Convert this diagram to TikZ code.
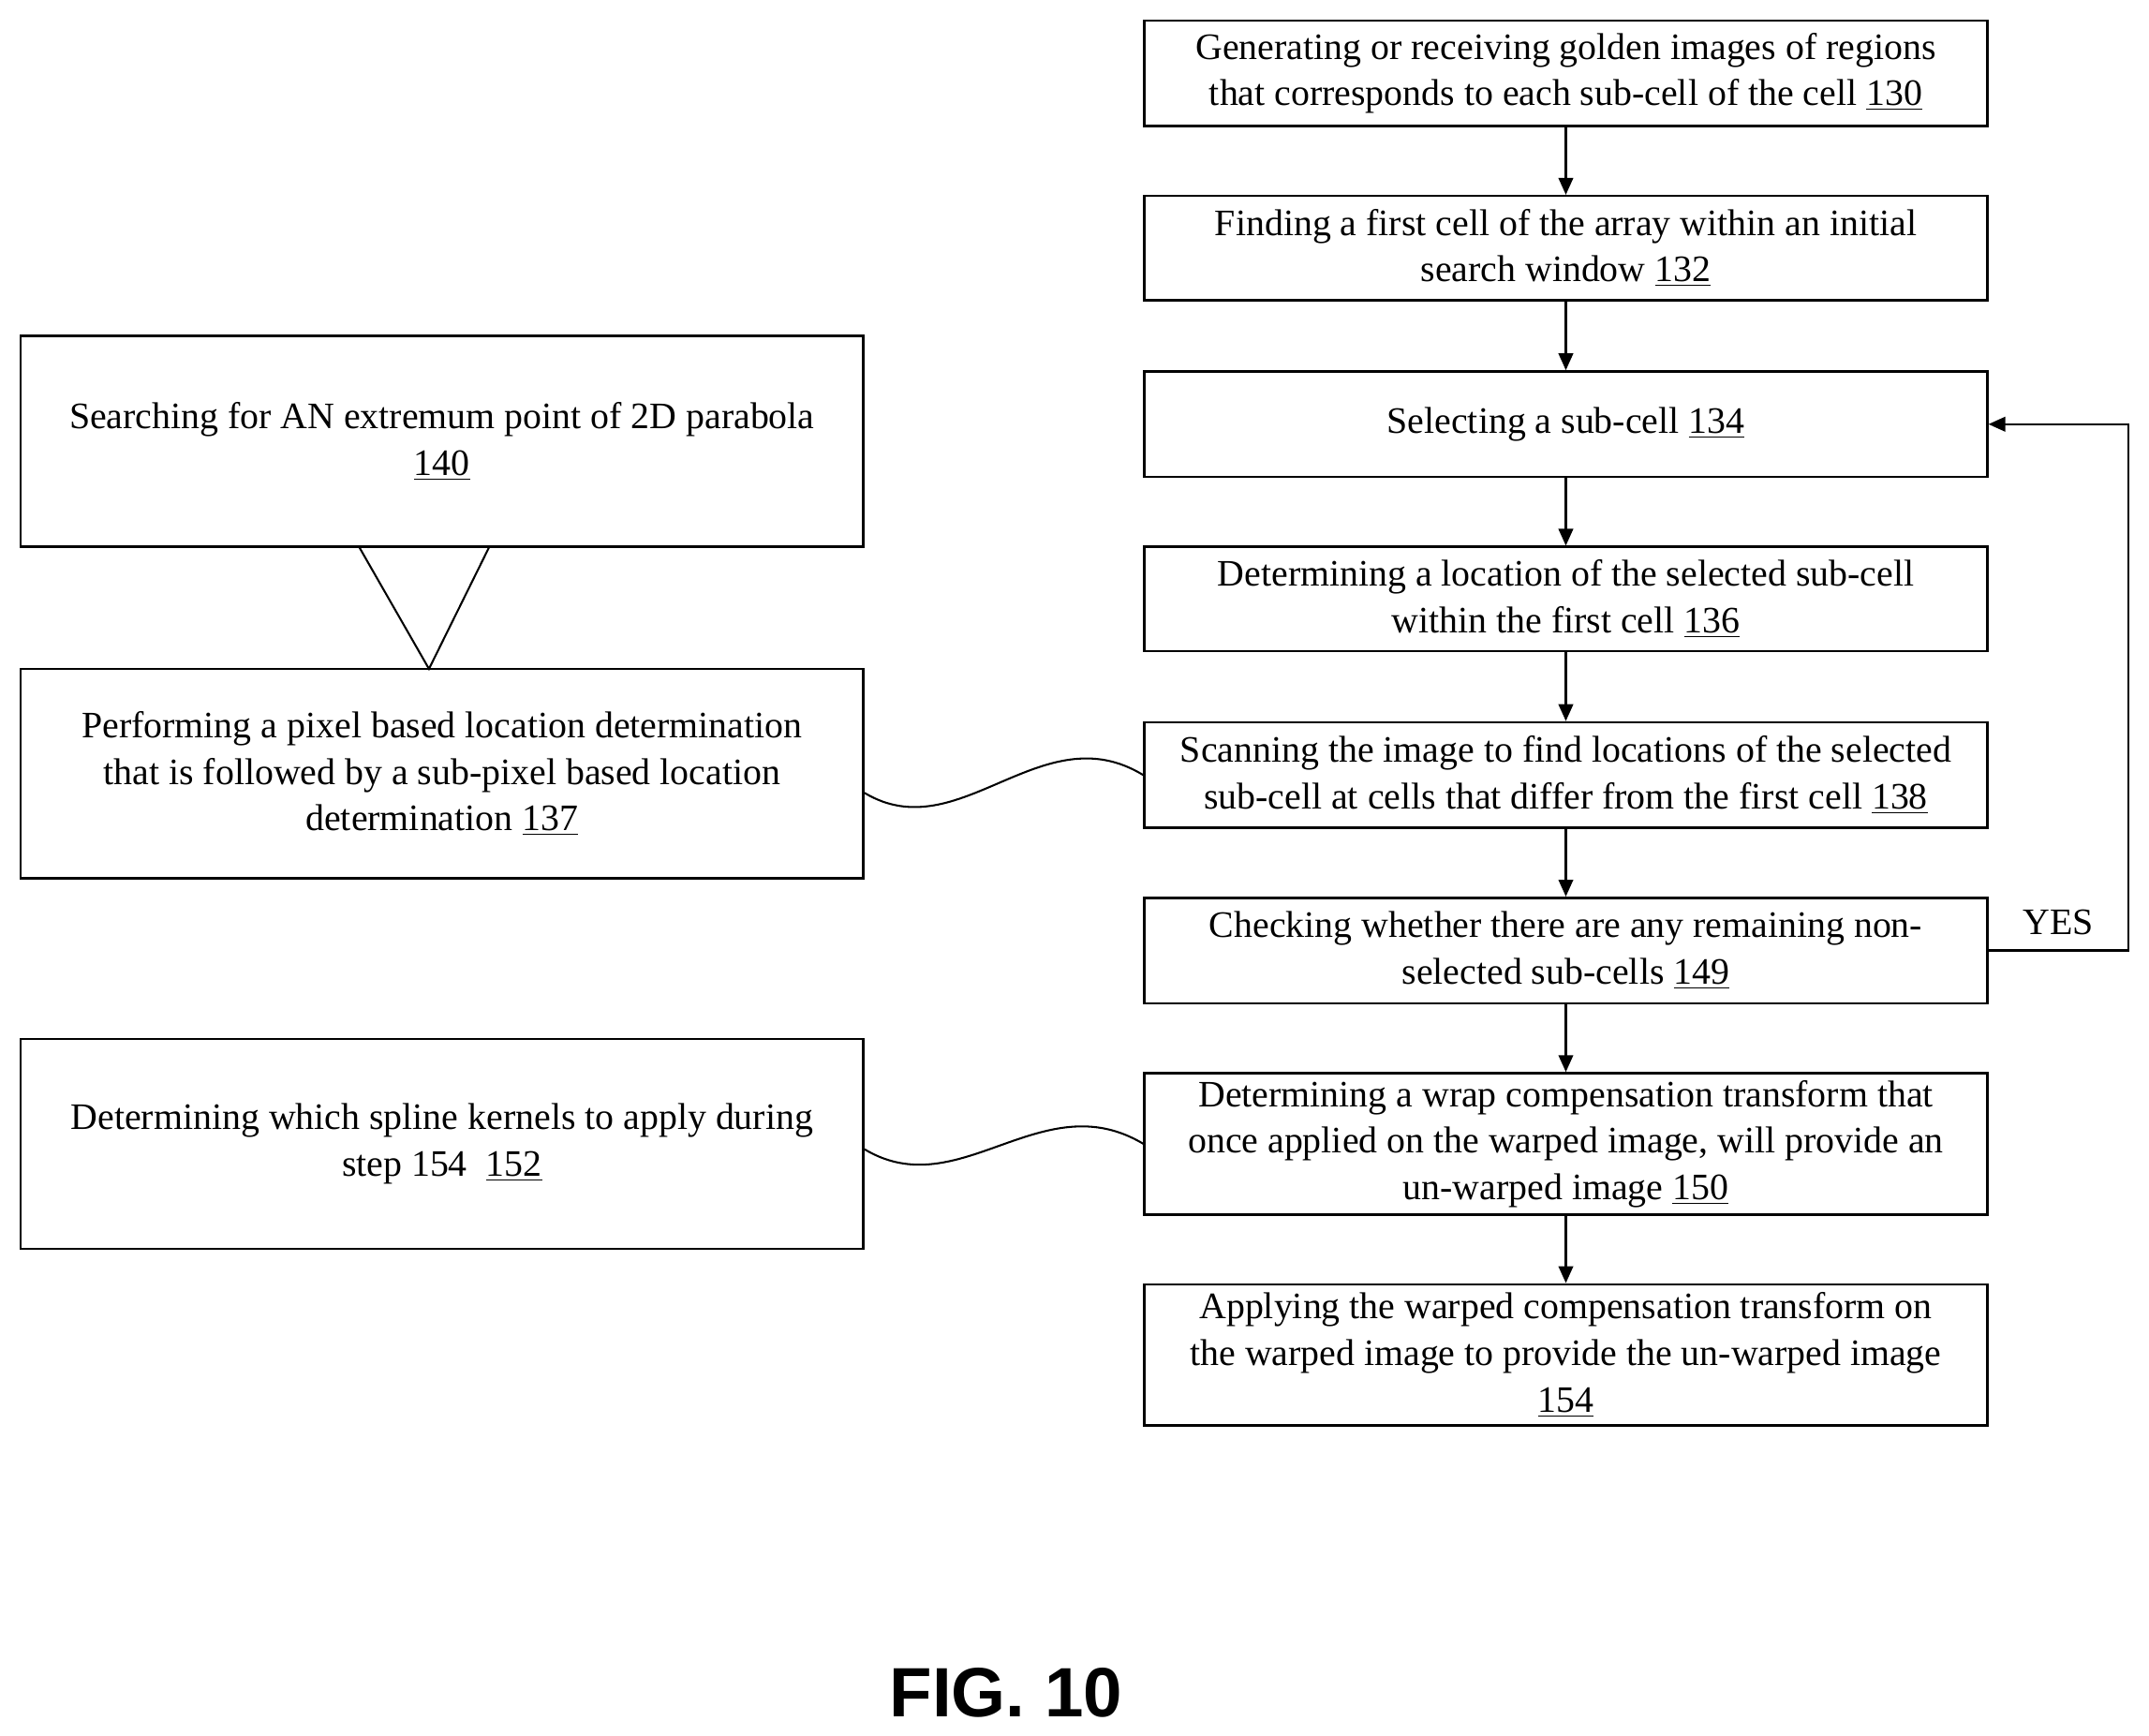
\documentclass[tikz,border=0pt]{standalone}
\usepackage{fontspec}
\setmainfont{Liberation Serif}
\newfontfamily\figfont{Liberation Sans}
\usetikzlibrary{arrows.meta}
\newcommand{\un}[1]{\underline{#1}}
\begin{document}
\begin{tikzpicture}[x=0.02cm,y=-0.02cm,
  box/.style={draw,line width=1pt,minimum width=12.3cm,align=center,inner sep=0pt,font=\fontsize{15.5}{19.3}\selectfont},
  arr/.style={-{Triangle[length=7pt,width=6pt]},line width=1pt}]
\useasboundingbox (0,0) rectangle (1568,1266);
\node[box,minimum height=1.54cm] (b130) at (1142.5,53.5) {Generating or receiving golden images of regions\\ that corresponds to each sub-cell of the cell \un{130}};
\node[box,minimum height=1.52cm] (b132) at (1142.5,181) {Finding a first cell of the array within an initial\\ search window \un{132}};
\node[box,minimum height=1.54cm] (b134) at (1142.5,309.5) {Selecting a sub-cell \un{134}};
\node[box,minimum height=1.52cm] (b136) at (1142.5,437) {Determining a location of the selected sub-cell\\ within the first cell \un{136}};
\node[box,minimum height=1.54cm] (b138) at (1142.5,565.5) {Scanning the image to find locations of the selected\\ sub-cell at cells that differ from the first cell \un{138}};
\node[box,minimum height=1.54cm] (b149) at (1142.5,693.5) {Checking whether there are any remaining non-\\ selected sub-cells \un{149}};
\node[box,minimum height=2.06cm] (b150) at (1142.5,834.5) {Determining a wrap compensation transform that\\ once applied on the warped image, will provide an\\ un-warped image \un{150}};
\node[box,minimum height=2.06cm] (b154) at (1142.5,988.5) {Applying the warped compensation transform on\\ the warped image to provide the un-warped image\\ \un{154}};
\node[box,minimum height=3.08cm] (b140) at (322.5,322) {Searching for AN extremum point of 2D parabola\\ \un{140}};
\node[box,minimum height=3.06cm] (b137) at (322.5,564.5) {Performing a pixel based location determination\\ that is followed by a sub-pixel based location\\ determination \un{137}};
\node[box,minimum height=3.06cm] (b152) at (322.5,834.5) {Determining which spline kernels to apply during\\ step 154~~\un{152}};
\draw[arr] (b130) -- (b132);
\draw[arr] (b132) -- (b134);
\draw[arr] (b134) -- (b136);
\draw[arr] (b136) -- (b138);
\draw[arr] (b138) -- (b149);
\draw[arr] (b149) -- (b150);
\draw[arr] (b150) -- (b154);
\coordinate (c1) at (1553,693.5);
\coordinate (c2) at (1553,309.5);
\draw[arr] (b149.east) -- (c1) -- (c2) -- (b134.east);
\node[font=\fontsize{15.5}{18}\selectfont] (yes) at (1502,673) {YES};
\coordinate (t1) at (262,399);
\coordinate (t2) at (313,488);
\coordinate (t3) at (357,399);
\draw[line width=0.8pt] (t1) -- (t2) -- (t3);
\draw[line width=0.8pt] (b137.east) ++(0,14) .. controls (700,620) and (760,520) .. (b138.west);
\draw[line width=0.8pt] (b152.east) ++(0,4) .. controls (700,880) and (760,790) .. (b150.west);
\node[font=\figfont\bfseries\fontsize{29}{33}\selectfont] (fig) at (734,1235) {FIG. 10};
\end{tikzpicture}
\end{document}
